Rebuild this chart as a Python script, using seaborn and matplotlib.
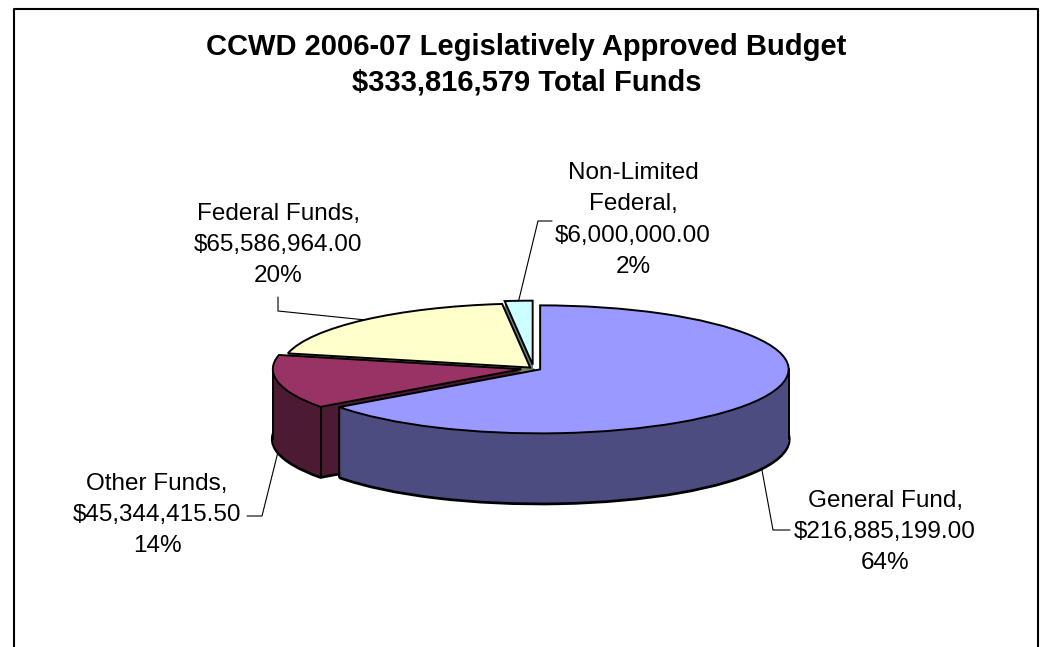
import numpy as np
import matplotlib
matplotlib.use("Agg")
import matplotlib.pyplot as plt
import seaborn as sns
from matplotlib.lines import Line2D

# ---------------- data ----------------
categories = ["General Fund,", "Other Funds,", "Federal Funds,", "Non-Limited\nFederal,"]
values = [216885199.00, 45344415.50, 65586964.00, 6000000.00]
value_labels = ["$216,885,199.00", "$45,344,415.50", "$65,586,964.00", "$6,000,000.00"]
pct_labels = ["64%", "14%", "20%", "2%"]
top_colors = ["#9999FF", "#993366", "#FFFFCC", "#CCFFFF"]
side_colors = ["#4C4C80", "#4D1A33", "#808066", "#668080"]
explode = [0.03, 0.05, 0.02, 0.06]
title_lines = ["CCWD 2006-07 Legislatively Approved Budget", "$333,816,579 Total Funds"]

# ---------------- style ----------------
sns.set_theme(style="white")
plt.rcParams['font.family'] = ['Liberation Sans', 'DejaVu Sans']

W, H = 1042, 647
fig = plt.figure(figsize=(W / 100, H / 100), dpi=100)
fig.patch.set_facecolor("white")
ax = fig.add_axes([0, 0, 1, 1])

# layout of the pseudo-3D pie (pixels)
CX, CY, RX, RY = 533.5, 368.5, 248.5, 64.0
DEPTH = 70.0 / RY


def px(x, y):
    """pixel position (from top-left) -> data coordinates"""
    return (x - CX) / RX, (CY - y) / RY


# ---------------- side walls (stacked layers) ----------------
nl = 90
offsets = np.linspace(DEPTH, 0, nl)
for k, off in enumerate(offsets):
    first = (k == 0)
    ax.pie(values, explode=explode, colors=side_colors, startangle=90,
           counterclock=False, center=(0, -off),
           wedgeprops=dict(linewidth=2.8 if first else 0,
                           edgecolor="black" if first else "none",
                           zorder=1))

# ---------------- vertical edges of the walls ----------------
fracs = np.array(values) / np.sum(values)
cum = np.concatenate([[0], np.cumsum(fracs)])
for i in range(len(values)):
    a1 = 90 - 360 * cum[i]          # start angle (deg, standard)
    a2 = 90 - 360 * cum[i + 1]      # end angle
    mid = np.deg2rad((a1 + a2) / 2)
    ox, oy = explode[i] * np.cos(mid), explode[i] * np.sin(mid)
    angs = [a1, a2]
    for ext in (-360, -180, 0, 180):
        if a2 < ext < a1:
            angs.append(ext)
    for a in angs:
        r = np.deg2rad(a)
        if np.sin(r) < -1e-6 or abs(np.sin(r)) < 1e-6:
            x = ox + np.cos(r)
            y = oy + np.sin(r)
            ax.add_line(Line2D([x, x], [y, y - DEPTH], color="black", lw=1.4, zorder=2))

# ---------------- top face ----------------
wedges, _ = ax.pie(values, explode=explode, colors=top_colors, startangle=90,
                   counterclock=False, center=(0, 0),
                   wedgeprops=dict(linewidth=1.4, edgecolor="black"))
for w in wedges:
    w.set_zorder(3)

ax.set_aspect("auto")
x0, y0 = px(0, H)
x1, y1 = px(W, 0)
ax.set_xlim(x0, x1)
ax.set_ylim(y0, y1)
ax.axis("off")

# ---------------- labels with leader lines ----------------
label_centers = [(885, 532), (157, 515), (278, 245), (633, 220)]
leader_elbows = [
    [(790, 530), (773, 530)],
    [(247, 516), (262, 516)],
    [(278, 297), (278, 311)],
    [(552, 221), (538, 221)],
]
for i in range(len(values)):
    a1 = 90 - 360 * cum[i]
    a2 = 90 - 360 * cum[i + 1]
    mid = np.deg2rad((a1 + a2) / 2)
    e = explode[i]
    ax_ = (1 + e) * np.cos(mid)
    ay_ = (1 + e) * np.sin(mid)
    if np.sin(mid) < 0:
        ay_ -= DEPTH
    pts = [px(*p) for p in leader_elbows[i]] + [(ax_, ay_)]
    ax.plot([p[0] for p in pts], [p[1] for p in pts], color="black", lw=0.8, zorder=4)
    tx, ty = px(*label_centers[i])
    ax.text(tx, ty, f"{categories[i]}\n{value_labels[i]}\n{pct_labels[i]}",
            ha="center", va="center", fontsize=17.5, linespacing=1.53,
            color="black", zorder=5)

# ---------------- title ----------------
fig.text(526.5 / W, 1 - 65 / H, "\n".join(title_lines), ha="center", va="center",
         fontsize=21, fontweight="bold", linespacing=1.33, color="black")

# ---------------- chart border ----------------
fig.add_artist(Line2D([13.5 / W, 13.5 / W, 1038 / W, 1038 / W],
                      [0, 1 - 8.5 / H, 1 - 8.5 / H, 0],
                      transform=fig.transFigure, color="black", lw=1.5))

fig.savefig("out.png", dpi=100, facecolor="white")
